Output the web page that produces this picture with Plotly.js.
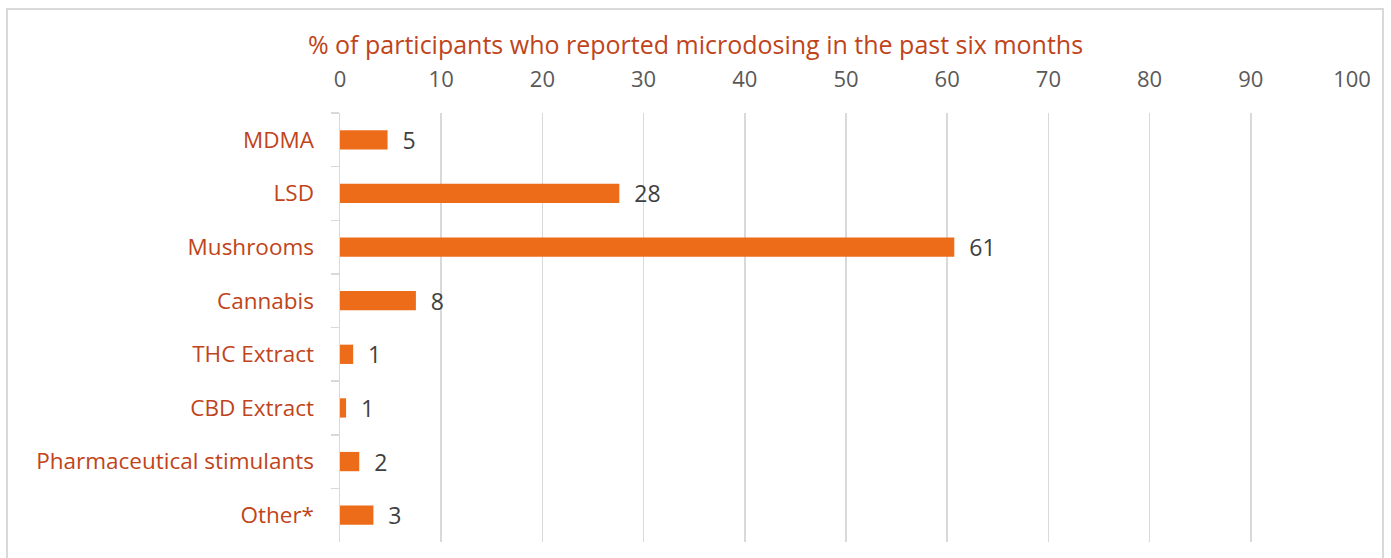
<!DOCTYPE html>
<html>
<head>
<meta charset="utf-8">
<script src="https://cdn.plot.ly/plotly-3.0.1.min.js"></script>
<style>
html,body{margin:0;padding:0;background:#fff;}
#wrap{position:relative;width:1391px;height:558px;}
#chart{position:absolute;left:0;top:0;width:1391px;height:558px;}
#frame{position:absolute;left:6px;top:8px;width:1378px;height:560px;border:2px solid #d9d9d9;pointer-events:none;box-sizing:border-box;}
</style>
</head>
<body>
<div id="wrap"><div id="chart"></div><div id="frame"></div></div>
<script>
const categories = ["MDMA","LSD","Mushrooms","Cannabis","THC Extract","CBD Extract","Pharmaceutical stimulants","Other*"];
const values = [4.7, 27.6, 60.7, 7.5, 1.3, 0.6, 1.9, 3.3];
const xTicks = [0,10,20,30,40,50,60,70,80,90,100];
const titleText = "% of participants who reported microdosing in the past six months";

const labelColor = "#C0441A";
const barColor = "#EC6C1A";
const font = "'Open Sans', 'Noto Sans', sans-serif";

const trace = {
  type: "bar",
  orientation: "h",
  x: values,
  y: categories,
  marker: {color: barColor},
  texttemplate: "  %{x:.0f}",
  textposition: "outside",
  constraintext: "none",
  cliponaxis: false,
  textfont: {family: font, size: 23, color: "#404040"},
  hoverinfo: "skip"
};

const layout = {
  width: 1391, height: 558,
  margin: {l: 340, r: 39, t: 113, b: 16, pad: 0},
  paper_bgcolor: "#fff",
  plot_bgcolor: "#fff",
  showlegend: false,
  bargap: 0.64,
  font: {family: font},
  title: {
    text: titleText,
    font: {family: font, size: 25, color: labelColor},
    x: 0.5, xref: "container", xanchor: "center",
    y: 1 - 45/558, yref: "container", yanchor: "middle"
  },
  xaxis: {
    side: "top",
    range: [0, 100],
    tickvals: xTicks,
    ticktext: xTicks.map(String),
    showgrid: true,
    gridcolor: "#d9d9d9",
    gridwidth: 1.5,
    zeroline: false,
    showline: false,
    ticks: "",
    ticklabelstandoff: 21,
    tickfont: {family: font, size: 22, color: "#595959"}
  },
  yaxis: {
    type: "category",
    autorange: "reversed",
    showgrid: false,
    zeroline: false,
    showline: true,
    linecolor: "#d9d9d9",
    linewidth: 1.5,
    ticks: "outside",
    tickson: "boundaries",
    ticklen: 8,
    tickcolor: "#d9d9d9",
    tickwidth: 1.5,
    ticklabelstandoff: 20,
    tickfont: {family: font, size: 22.5, color: labelColor}
  }
};

Plotly.newPlot("chart", [trace], layout, {displayModeBar: false, staticPlot: true});
</script>
</body>
</html>
